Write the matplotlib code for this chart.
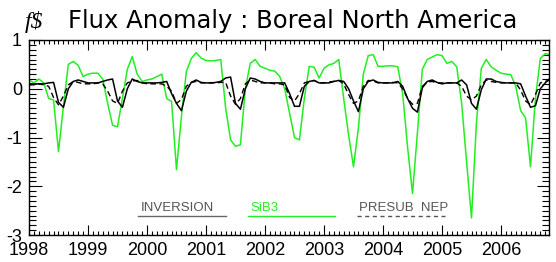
import numpy as np
import matplotlib
matplotlib.use("Agg")
import matplotlib.pyplot as plt
from matplotlib.ticker import MultipleLocator, FixedLocator

# Monthly values, Jan 1998 onward
start_year = 1998
inversion = [
    0.10, 0.10, 0.10, 0.10, 0.12, 0.13, -0.28, -0.38, 0.00, 0.15, 0.18, 0.15,   # 1998
    0.12, 0.12, 0.12, 0.15, 0.18, 0.20, -0.25, -0.38, 0.00, 0.20, 0.15, 0.12,   # 1999
    0.12, 0.12, 0.12, 0.13, 0.15, -0.10, -0.30, -0.45, -0.05, 0.13, 0.18, 0.13,  # 2000
    0.12, 0.12, 0.13, 0.15, 0.22, 0.24, -0.30, -0.42, 0.00, 0.22, 0.20, 0.15,   # 2001
    0.12, 0.12, 0.12, 0.12, 0.12, -0.10, -0.36, -0.36, 0.05, 0.15, 0.17, 0.12,  # 2002
    0.12, 0.12, 0.15, 0.17, 0.15, 0.00, -0.25, -0.47, 0.00, 0.15, 0.18, 0.13,   # 2003
    0.12, 0.12, 0.12, 0.15, 0.05, -0.20, -0.40, -0.48, 0.02, 0.15, 0.18, 0.13,  # 2004
    0.10, 0.12, 0.12, 0.12, 0.18, 0.08, -0.30, -0.42, -0.02, 0.20, 0.20, 0.15,  # 2005
    0.13, 0.12, 0.12, 0.12, 0.10, -0.15, -0.38, -0.35, 0.00, 0.12, 0.22,        # 2006
]
sib3 = [
    0.18, 0.12, 0.20, 0.12, -0.20, -0.23, -1.29, -0.36, 0.50, 0.56, 0.48, 0.25,  # 1998
    0.30, 0.32, 0.32, 0.20, -0.30, -0.75, -0.78, -0.20, 0.40, 0.66, 0.30, 0.15,  # 1999
    0.18, 0.20, 0.25, 0.30, -0.20, -0.26, -1.66, -0.57, 0.35, 0.62, 0.74, 0.63,  # 2000
    0.58, 0.57, 0.58, 0.60, -0.40, -1.05, -1.18, -1.15, 0.00, 0.52, 0.60, 0.46,  # 2001
    0.42, 0.38, 0.36, 0.25, 0.00, -0.50, -1.00, -1.05, -0.20, 0.46, 0.44, 0.22,  # 2002
    0.42, 0.49, 0.52, 0.60, -0.20, -0.95, -1.60, -0.80, 0.30, 0.68, 0.70, 0.46,  # 2003
    0.46, 0.47, 0.47, 0.45, -0.10, -1.20, -2.15, -0.90, 0.40, 0.60, 0.65, 0.70,  # 2004
    0.68, 0.52, 0.56, 0.45, -0.30, -1.50, -2.65, -0.70, 0.42, 0.60, 0.45, 0.38,  # 2005
    0.32, 0.30, 0.29, 0.05, -0.45, -0.60, -1.60, -0.20, 0.62, 0.72, 0.70,        # 2006
]
presub_nep = [
    0.08, 0.08, 0.10, 0.08, 0.05, -0.18, -0.33, -0.15, 0.08, 0.15, 0.13, 0.10,   # 1998
    0.10, 0.10, 0.12, 0.10, -0.05, -0.25, -0.30, -0.05, 0.12, 0.16, 0.17, 0.13,  # 1999
    0.10, 0.10, 0.10, 0.10, 0.05, -0.05, -0.30, -0.22, 0.05, 0.13, 0.15, 0.12,   # 2000
    0.12, 0.12, 0.12, 0.13, 0.13, -0.15, -0.32, -0.20, 0.10, 0.18, 0.15, 0.12,   # 2001
    0.12, 0.12, 0.10, 0.10, 0.08, -0.18, -0.25, -0.10, 0.12, 0.15, 0.17, 0.12,   # 2002
    0.12, 0.14, 0.15, 0.17, 0.10, -0.12, -0.30, -0.25, 0.05, 0.17, 0.16, 0.12,   # 2003
    0.12, 0.12, 0.13, 0.12, 0.00, -0.20, -0.32, -0.30, 0.05, 0.14, 0.15, 0.12,   # 2004
    0.12, 0.12, 0.12, 0.12, 0.05, -0.15, -0.23, -0.15, 0.08, 0.18, 0.15, 0.13,   # 2005
    0.12, 0.12, 0.12, 0.12, -0.03, -0.25, -0.33, -0.12, 0.12, 0.15, 0.18,        # 2006
]
year_ticks = list(range(1998, 2007))
y_ticks = [1, 0, -1, -2, -3]
series_labels = ["INVERSION", "SiB3", "PRESUB  NEP"]

t = start_year + np.arange(len(sib3)) / 12.0

green = "#22ee22"
fig = plt.figure(figsize=(5.56, 2.62), dpi=100)
ax = fig.add_axes([29/556, 27/262, 520/556, 195/262])

ax.plot(t, sib3, color=green, lw=1.1)
ax.plot(t, presub_nep, color="black", lw=1.0, ls=(0, (4, 2.5)))
ax.plot(t, inversion, color="black", lw=1.1)

ax.set_xlim(1998, 1998 + 520/59.0)
ax.set_ylim(-3, 1)

ax.xaxis.set_major_locator(FixedLocator(year_ticks))
ax.xaxis.set_minor_locator(MultipleLocator(1/12))
ax.yaxis.set_major_locator(FixedLocator(y_ticks))
ax.yaxis.set_minor_locator(MultipleLocator(0.1))
ax.tick_params(which="both", direction="in", top=True, right=True, width=0.8, color="black")
ax.tick_params(which="major", axis="x", length=7, pad=5)
ax.tick_params(which="major", axis="y", length=9, pad=5)
ax.tick_params(which="minor", axis="x", length=3)
ax.tick_params(which="minor", axis="y", length=5)
ax.tick_params(labelsize=13)
ax.set_xticklabels([str(y) for y in year_ticks])
ax.set_yticklabels([str(v) for v in y_ticks])
for lab in ax.get_xticklabels() + ax.get_yticklabels():
    lab.set_family("Liberation Sans")
for sp in ax.spines.values():
    sp.set_linewidth(1.0)

# legend: text above a sample line
leg = [
    (series_labels[0], "#555555", "#666666", "-", 0.21, 0.379),
    (series_labels[1], green, green, "-", 0.421, 0.588),
    (series_labels[2], "#555555", "#555555", (0, (3, 2.5)), 0.631, 0.80),
]
for lab, tc, lc, ls, x0, x1 in leg:
    ax.text(x0 + 0.004, 0.123, lab, transform=ax.transAxes, color=tc,
            fontsize=9.5, family="Liberation Sans", va="baseline", ha="left")
    ax.plot([x0, x1], [0.097, 0.097], transform=ax.transAxes, color=lc, lw=1.0, ls=ls)

fig.text(25/556, 1 - 28/262, "f\\$", family="Liberation Serif", style="italic",
         fontsize=17, va="baseline", ha="left")
fig.text(68/556, 1 - 28/262, "Flux Anomaly : Boreal North America",
         family="DejaVu Sans", fontsize=17.5, va="baseline", ha="left")

fig.savefig("out.png", dpi=100)
